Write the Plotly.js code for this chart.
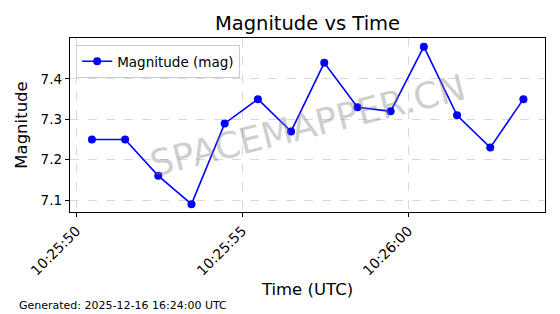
<!DOCTYPE html>
<html>
<head>
<meta charset="utf-8">
<script src="https://cdn.plot.ly/plotly-3.0.1.min.js"></script>
<style>html,body{margin:0;padding:0;background:#fff;}#chart{width:560px;height:314px;}</style>
</head>
<body>
<div id="chart"></div>
<script>
const times = [
  '2025-12-16 10:25:50.47','2025-12-16 10:25:51.47','2025-12-16 10:25:52.47','2025-12-16 10:25:53.47',
  '2025-12-16 10:25:54.47','2025-12-16 10:25:55.47','2025-12-16 10:25:56.47','2025-12-16 10:25:57.47',
  '2025-12-16 10:25:58.47','2025-12-16 10:25:59.47','2025-12-16 10:26:00.47','2025-12-16 10:26:01.47',
  '2025-12-16 10:26:02.47','2025-12-16 10:26:03.47'
];
const magnitudes = [7.25, 7.25, 7.16, 7.09, 7.29, 7.35, 7.27, 7.44, 7.33, 7.32, 7.48, 7.31, 7.23, 7.35];
const seriesName = 'Magnitude (mag)';
const yTicks = [7.1, 7.2, 7.3, 7.4];

const font = 'DejaVu Sans, sans-serif';
const trace = {
  x: times, y: magnitudes, type: 'scatter', mode: 'lines+markers', name: seriesName,
  line: {color: '#0000ff', width: 1.6},
  marker: {color: '#0000ff', size: 8}
};
const layout = {
  width: 560, height: 314,
  margin: {l: 70, r: 15, t: 38, b: 102},
  paper_bgcolor: '#fff', plot_bgcolor: '#fff',
  font: {family: font, color: '#000', size: 12},
  title: {text: 'Magnitude vs Time', font: {family: font, size: 19.5, color: '#000'}, x: 0.5, xref: 'paper', y: 0.925, yanchor: 'middle'},
  showlegend: true,
  legend: {x: 0.013, y: 0.96, xanchor: 'left', yanchor: 'top', bgcolor: 'rgba(255,255,255,0.8)', bordercolor: '#ccc', borderwidth: 1, font: {family: font, size: 13.5}, tracegroupgap: 0},
  xaxis: {
    type: 'date',
    range: ['2025-12-16 10:25:49.81', '2025-12-16 10:26:04.12'],
    tick0: '2025-12-16 10:25:50', dtick: 5000, tickformat: '%H:%M:%S',
    tickangle: -45,
    tickfont: {family: font, size: 14},
    ticks: 'outside', ticklen: 4, tickcolor: '#000',
    showline: true, linecolor: '#000', linewidth: 1.2, mirror: true,
    showgrid: true, gridcolor: '#cfcfcf', griddash: 'dash', gridwidth: 0.8,
    zeroline: false,
    title: {text: 'Time (UTC)', font: {family: font, size: 16.5}, standoff: 6}
  },
  yaxis: {
    range: [7.0705, 7.5015],
    tickvals: yTicks, ticktext: yTicks.map(v => v.toFixed(1)),
    tickfont: {family: font, size: 13.5},
    ticks: 'outside', ticklen: 4, tickcolor: '#000',
    showline: true, linecolor: '#000', linewidth: 1.2, mirror: true,
    showgrid: true, gridcolor: '#cfcfcf', griddash: 'dash', gridwidth: 0.8,
    zeroline: false,
    title: {text: 'Magnitude', font: {family: font, size: 16.5}, standoff: 8}
  },
  annotations: [
    {text: 'SPACEMAPPER.CN', xref: 'paper', yref: 'paper', x: 0.5, y: 0.5, showarrow: false,
     textangle: -14, font: {family: font, size: 36, color: 'rgba(128,128,128,0.4)'}},
    {text: 'Generated: 2025-12-16 16:24:00 UTC', xref: 'paper', yref: 'paper',
     x: (17 - 70) / 475, y: (212 - 305) / 174, xanchor: 'left', yanchor: 'middle', showarrow: false,
     font: {family: font, size: 11, color: '#000'}}
  ]
};
Plotly.newPlot('chart', [trace], layout, {displayModeBar: false, staticPlot: true});
</script>
</body>
</html>
